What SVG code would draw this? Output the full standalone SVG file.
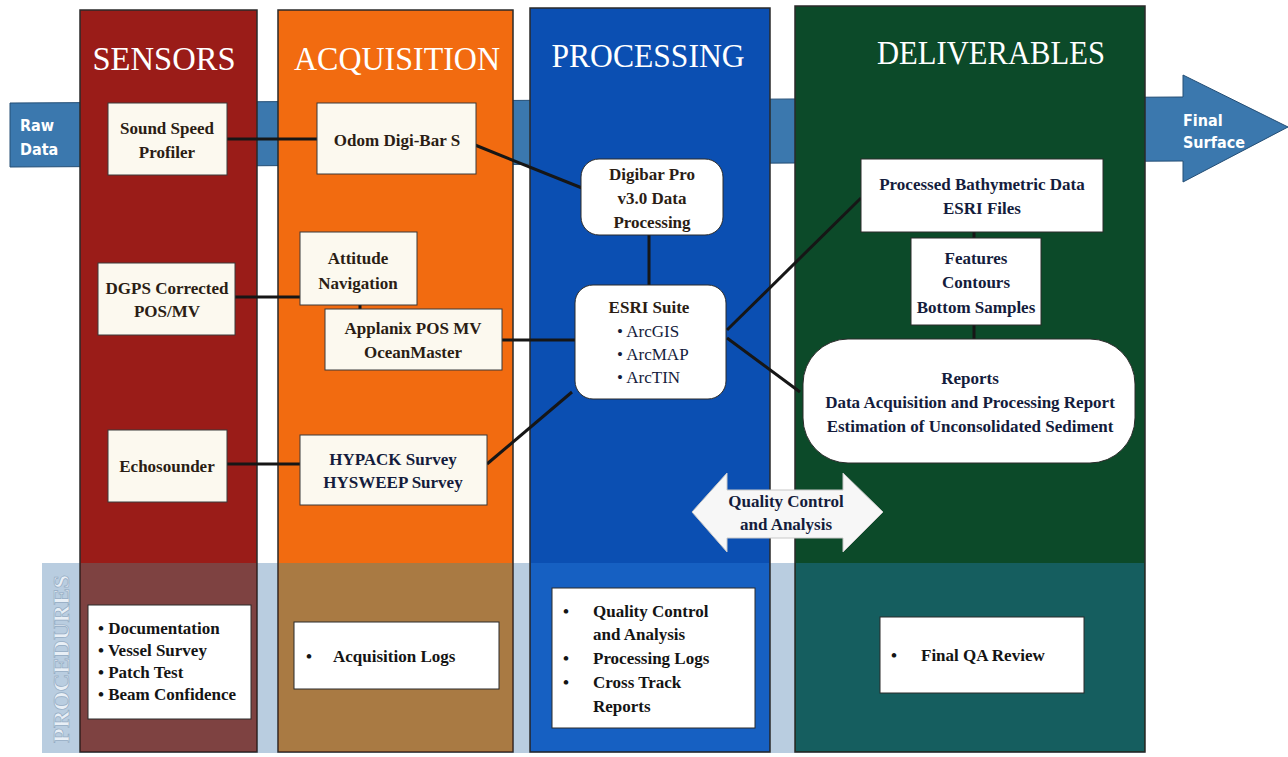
<svg xmlns="http://www.w3.org/2000/svg" width="1288" height="757" viewBox="0 0 1288 757">
<style>
.col{stroke:#2a2a2a;stroke-width:1.5}
.hdr{font-family:"Liberation Serif",serif;font-size:34px;fill:#ffffff;text-anchor:middle}
.box{fill:#fcf9ef;stroke:#3a3a3a;stroke-width:1}
.wbox{fill:#ffffff;stroke:#2a2a2a;stroke-width:1}
.t{font-family:"Liberation Serif",serif;font-weight:bold;font-size:17px;fill:#2b1d14;text-anchor:middle}
.tn{font-family:"Liberation Serif",serif;font-weight:bold;font-size:17px;fill:#141c3c;text-anchor:middle}
.tl{font-family:"Liberation Serif",serif;font-weight:bold;font-size:17px;fill:#141414}
.ts{font-family:"Liberation Serif",serif;font-size:17px;fill:#141c3c}
.lbl{font-family:"DejaVu Sans",sans-serif;font-weight:bold;font-size:16px;fill:#ffffff;font-stretch:condensed}
.conn{stroke:#161616;stroke-width:3;fill:none}
</style>

<!-- background flow arrow -->
<g id="flow-arrow">
<polygon points="10,103 1183,97 1183,75 1288,127 1183,182 1183,161 10,167" fill="#3b78ae" stroke="#244e75" stroke-width="1"/>
<text class="lbl" x="20" y="131">Raw</text>
<text class="lbl" x="20" y="155">Data</text>
<text class="lbl" x="1183" y="126">Final</text>
<text class="lbl" x="1183" y="148">Surface</text>
</g>

<!-- procedures band -->
<g id="procedures-band">
<rect x="42" y="563" width="1103" height="190" fill="#b9cde0"/>
<text x="69" y="659" transform="rotate(-90 69 659)" text-anchor="middle" font-family="Liberation Serif, serif" font-weight="bold" font-size="23" fill="#e8eff6" stroke="#93abc3" stroke-width="0.7" textLength="168" lengthAdjust="spacingAndGlyphs">PROCEDURES</text>
</g>

<!-- columns -->
<g id="col-sensors">
<rect class="col" x="80" y="10" width="177" height="742" fill="#9a1c18"/>
<rect x="81" y="563" width="175" height="188" fill="#7e4241"/>
<text class="hdr" x="164" y="70" textLength="143" lengthAdjust="spacingAndGlyphs">SENSORS</text>
</g>
<g id="col-acquisition">
<rect class="col" x="278" y="10" width="235" height="742" fill="#f26b10"/>
<rect x="279" y="563" width="233" height="188" fill="#a97a43"/>
<text class="hdr" x="397" y="70" textLength="206" lengthAdjust="spacingAndGlyphs">ACQUISITION</text>
</g>
<g id="col-processing">
<rect class="col" x="530" y="8" width="240" height="744" fill="#0b4fb2"/>
<rect x="531" y="563" width="238" height="188" fill="#1660c2"/>
<text class="hdr" x="648" y="67" textLength="193" lengthAdjust="spacingAndGlyphs">PROCESSING</text>
</g>
<g id="col-deliverables">
<rect class="col" x="795" y="6" width="350" height="746" fill="#0c4a29"/>
<rect x="796" y="563" width="348" height="188" fill="#155e5f"/>
<text class="hdr" x="991" y="64" textLength="228" lengthAdjust="spacingAndGlyphs">DELIVERABLES</text>
</g>

<!-- connectors -->
<g id="connectors">
<line class="conn" x1="227" y1="139" x2="317" y2="139"/>
<line class="conn" x1="475" y1="145" x2="582" y2="188"/>
<line class="conn" x1="649" y1="235" x2="649" y2="285"/>
<line class="conn" x1="235" y1="297" x2="300" y2="297"/>
<line class="conn" x1="360" y1="305" x2="360" y2="309"/>
<line class="conn" x1="502" y1="340" x2="575" y2="340"/>
<line class="conn" x1="227" y1="464" x2="300" y2="464"/>
<line class="conn" x1="487" y1="464" x2="572" y2="392"/>
<line class="conn" x1="727" y1="330" x2="861" y2="198"/>
<line class="conn" x1="727" y1="338" x2="800" y2="392"/>
<line class="conn" x1="974" y1="232" x2="974" y2="238"/>
<line class="conn" x1="974" y1="325" x2="974" y2="339"/>
</g>

<!-- sensors nodes -->
<g id="sound-speed-profiler">
<rect class="box" x="108" y="103" width="119" height="72"/>
<text class="t" x="167" y="134">Sound Speed</text>
<text class="t" x="167" y="158">Profiler</text>
</g>
<g id="dgps">
<rect class="box" x="98" y="263" width="137" height="72"/>
<text class="t" x="167" y="294">DGPS Corrected</text>
<text class="t" x="167" y="317">POS/MV</text>
</g>
<g id="echosounder">
<rect class="box" x="108" y="430" width="119" height="72"/>
<text class="t" x="167" y="472">Echosounder</text>
</g>

<!-- acquisition nodes -->
<g id="odom">
<rect class="box" x="317" y="103" width="159" height="71"/>
<text class="t" x="397" y="146" fill="#3a1208">Odom Digi-Bar S</text>
</g>
<g id="attitude">
<rect class="box" x="300" y="232" width="117" height="73"/>
<text class="t" x="358" y="264">Attitude</text>
<text class="t" x="358" y="289">Navigation</text>
</g>
<g id="applanix">
<rect class="box" x="325" y="309" width="177" height="61"/>
<text class="t" x="413" y="334">Applanix POS MV</text>
<text class="t" x="413" y="358">OceanMaster</text>
</g>
<g id="hypack">
<rect class="box" x="300" y="435" width="187" height="70"/>
<text class="tn" x="393" y="465">HYPACK Survey</text>
<text class="tn" x="393" y="488">HYSWEEP Survey</text>
</g>

<!-- processing nodes -->
<g id="digibar">
<rect class="wbox" x="581" y="159" width="142" height="76" rx="18"/>
<text class="t" x="652" y="180" fill="#1a1a1a">Digibar Pro</text>
<text class="t" x="652" y="204" fill="#1a1a1a">v3.0 Data</text>
<text class="t" x="652" y="228" fill="#1a1a1a">Processing</text>
</g>
<g id="esri-suite">
<rect class="wbox" x="575" y="285" width="151" height="114" rx="18"/>
<text class="t" x="649" y="313" fill="#1a1a1a">ESRI Suite</text>
<text class="ts" x="617" y="337">• ArcGIS</text>
<text class="ts" x="617" y="360">• ArcMAP</text>
<text class="ts" x="617" y="383">• ArcTIN</text>
</g>

<!-- deliverables nodes -->
<g id="processed-bathy">
<rect class="wbox" x="861" y="159" width="242" height="73"/>
<text class="tn" x="982" y="190">Processed Bathymetric Data</text>
<text class="tn" x="982" y="214">ESRI Files</text>
</g>
<g id="features">
<rect class="wbox" x="911" y="238" width="130" height="87"/>
<text class="tn" x="976" y="264">Features</text>
<text class="tn" x="976" y="288">Contours</text>
<text class="tn" x="976" y="313">Bottom Samples</text>
</g>
<g id="reports">
<rect class="wbox" x="803" y="339" width="332" height="124" rx="45"/>
<text class="tn" x="970" y="384">Reports</text>
<text class="tn" x="970" y="408">Data Acquisition and Processing Report</text>
<text class="tn" x="970" y="432">Estimation of Unconsolidated Sediment</text>
</g>

<!-- QC double arrow -->
<g id="qc-arrow">
<polygon points="692,512 727,473 727,490 843,490 843,473 883,512 843,552 843,538 727,538 727,552" fill="#f7f7f7" stroke="#c8c8c8" stroke-width="1"/>
<text class="tn" x="786" y="507" font-size="16">Quality Control</text>
<text class="tn" x="786" y="530" font-size="16">and Analysis</text>
</g>

<!-- procedure boxes -->
<g id="proc-sensors">
<rect class="wbox" x="88" y="605" width="163" height="114"/>
<text class="tl" x="98" y="634">• Documentation</text>
<text class="tl" x="98" y="656">• Vessel Survey</text>
<text class="tl" x="98" y="678">• Patch Test</text>
<text class="tl" x="98" y="700">• Beam Confidence</text>
</g>
<g id="proc-acquisition">
<rect class="wbox" x="294" y="622" width="205" height="67"/>
<text class="tl" x="306" y="662">•</text>
<text class="tl" x="333" y="662">Acquisition Logs</text>
</g>
<g id="proc-processing">
<rect class="wbox" x="552" y="588" width="203" height="140"/>
<text class="tl" x="563" y="617">•</text>
<text class="tl" x="593" y="617">Quality Control</text>
<text class="tl" x="593" y="640">and Analysis</text>
<text class="tl" x="563" y="664">•</text>
<text class="tl" x="593" y="664">Processing Logs</text>
<text class="tl" x="563" y="688">•</text>
<text class="tl" x="593" y="688">Cross Track</text>
<text class="tl" x="593" y="712">Reports</text>
</g>
<g id="proc-deliverables">
<rect class="wbox" x="880" y="617" width="204" height="76"/>
<text class="tl" x="891" y="661">•</text>
<text class="tl" x="921" y="661">Final QA Review</text>
</g>
</svg>
